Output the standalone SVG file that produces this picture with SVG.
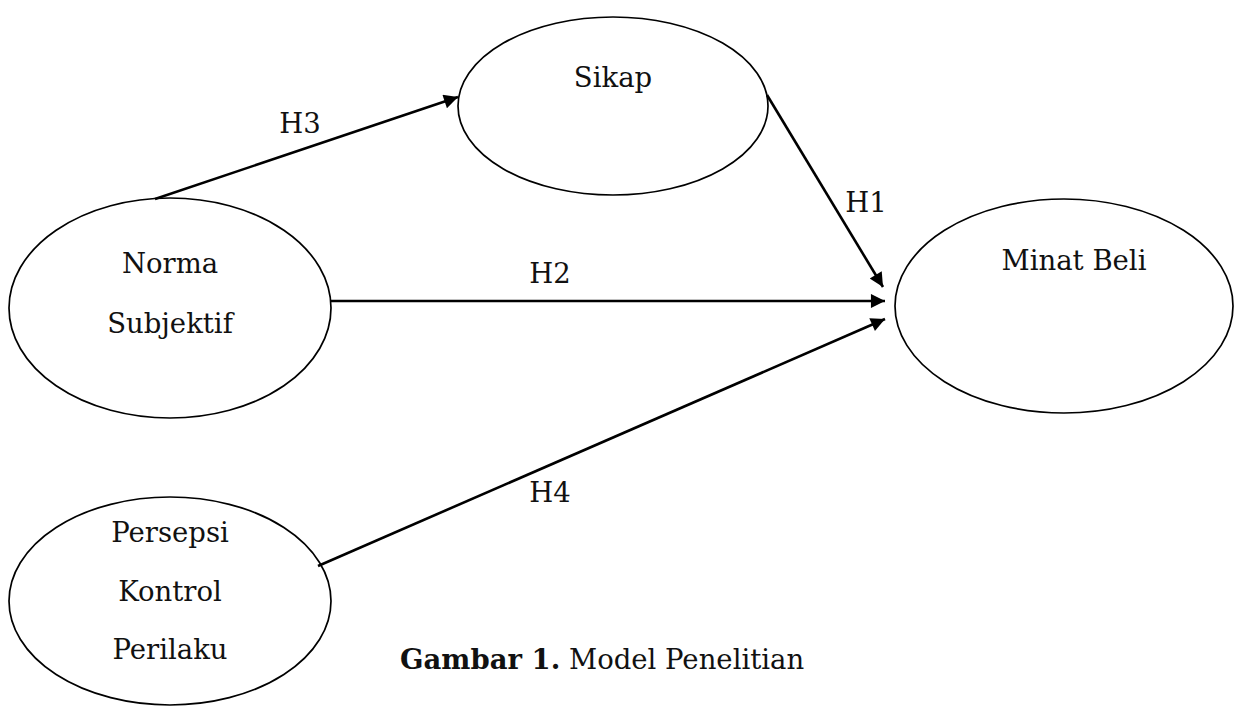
<svg xmlns="http://www.w3.org/2000/svg" width="1236" height="706" viewBox="0 0 1236 706">
<style>
.node{fill:none;stroke:#000;stroke-width:1.7}
.t{font-family:"DejaVu Serif","Liberation Serif",serif;font-size:27.5px;fill:#111;text-anchor:middle}
.conn line{stroke:#000;stroke-width:2.6}
</style>
<defs>
<marker id="ah" viewBox="0 0 10 10" refX="10" refY="5" markerWidth="7" markerHeight="5.4" markerUnits="strokeWidth" orient="auto">
<path d="M0,0 L10,5 L0,10 z" fill="#000"/>
</marker>
</defs>
<rect width="1236" height="706" fill="#fff"/>
<g id="sikap"><ellipse class="node" cx="613" cy="106" rx="155" ry="89"/><text class="t" x="613" y="87">Sikap</text></g>
<g id="norma"><ellipse class="node" cx="170" cy="308" rx="161" ry="110"/><text class="t" x="170" y="273">Norma</text><text class="t" x="170" y="333">Subjektif</text></g>
<g id="persepsi"><ellipse class="node" cx="170" cy="601" rx="161" ry="104"/><text class="t" x="170" y="542">Persepsi</text><text class="t" x="170" y="601">Kontrol</text><text class="t" x="170" y="659">Perilaku</text></g>
<g id="minat"><ellipse class="node" cx="1064" cy="306" rx="169" ry="107"/><text class="t" x="1074" y="270">Minat Beli</text></g>
<g class="conn" id="connectors">
<line x1="155" y1="199" x2="458" y2="97" marker-end="url(#ah)"/>
<line x1="767" y1="95" x2="883" y2="287" marker-end="url(#ah)"/>
<line x1="330" y1="301" x2="885" y2="301" marker-end="url(#ah)"/>
<line x1="318" y1="566" x2="885" y2="319" marker-end="url(#ah)"/>
<text class="t" x="300" y="133">H3</text>
<text class="t" x="866" y="212">H1</text>
<text class="t" x="550" y="283">H2</text>
<text class="t" x="550" y="502">H4</text>
</g>
<g id="caption"><text class="t" x="400" y="669" style="text-anchor:start"><tspan font-weight="bold">Gambar 1.</tspan> Model Penelitian</text></g>
</svg>
